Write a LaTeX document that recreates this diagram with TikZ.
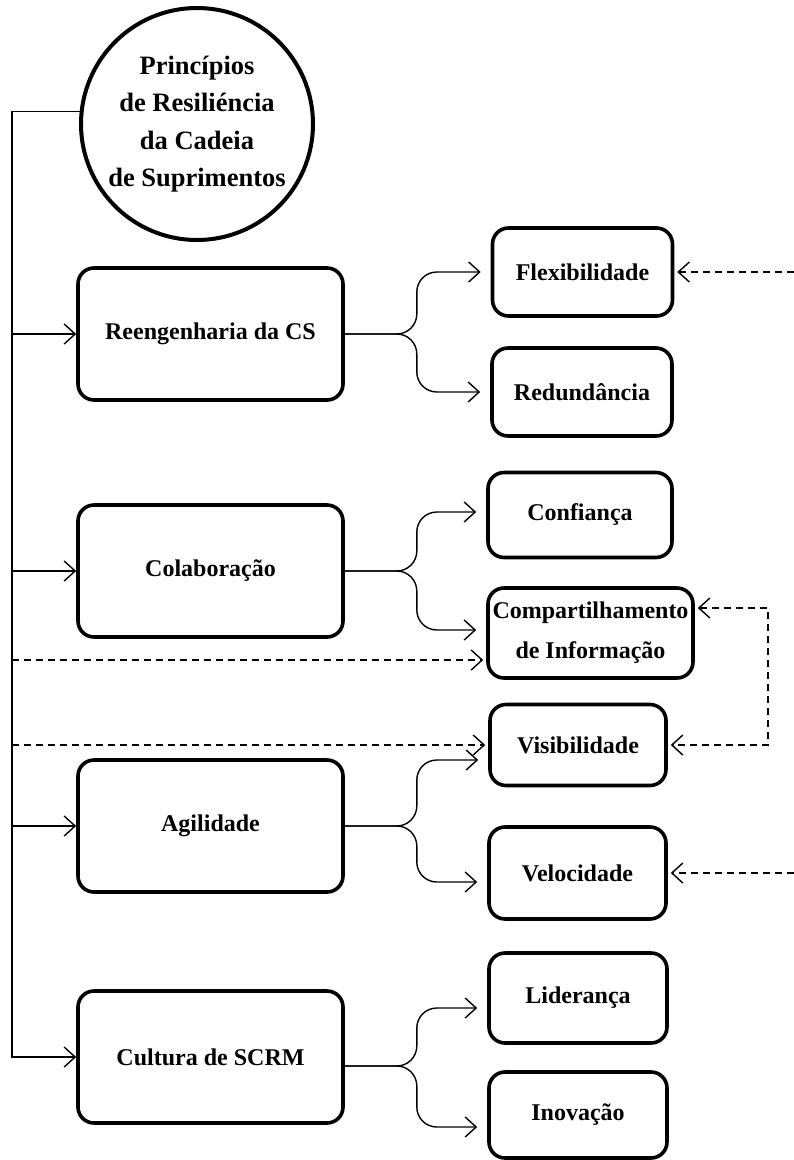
\documentclass[tikz,border=0pt]{standalone}
\usepackage{fontspec}
\setmainfont{Liberation Serif}
\usetikzlibrary{arrows.meta, positioning}
\tikzset{barb/.tip={Straight Barb[length=11pt, width=20pt]}}

\begin{document}
\begin{tikzpicture}[x=1pt, y=-1pt,
  font=\fontsize{24}{40}\selectfont\bfseries,
  box/.style={draw, line width=3.6pt, rounded corners=16pt, align=center, inner sep=0pt},
  mainbox/.style={box, minimum width=265pt, minimum height=132pt},
  subbox/.style={box, minimum width=180pt, minimum height=88pt},
  arr/.style={-barb, line width=1.4pt},
  branch/.style={arr, rounded corners=20pt, shorten >=10pt},
  darr/.style={arr, dash pattern=on 7pt off 5pt, shorten >=3pt},
  dboth/.style={darr, barb-barb, shorten <=3pt}]
  \useasboundingbox (0,0) rectangle (794,1160);

  % root and main principles
  \node[draw, circle, line width=4pt, minimum size=232pt, inner sep=0pt, align=center,
        font=\fontsize{26.5}{37.5}\selectfont\bfseries] (prin) at (197,124)
        {Princípios\\ de Resiliéncia\\ da Cadeia\\ de Suprimentos};
  \node[mainbox] (reeng) at (210.5,334)  {Reengenharia da CS};
  \node[mainbox] (colab) at (210.5,571)  {Colaboração};
  \node[mainbox] (agil)  at (210.5,826)  {Agilidade};
  \node[mainbox] (cult)  at (210.5,1057) {Cultura de SCRM};

  % sub-elements
  \node[subbox] (flex)    at (582.5,272)  {Flexibilidade};
  \node[subbox] (redund)  at (582,392)    {Redundância};
  \node[subbox, minimum width=184pt, minimum height=85pt] (confi) at (580,515) {Confiança};
  \node[subbox, minimum width=205pt, minimum height=90pt] (compart) at (590.5,633)
        {Compartilhamento\\ de Informação};
  \node[subbox, minimum width=176pt, minimum height=81pt] (visib) at (578,745) {Visibilidade};
  \node[subbox, minimum width=177pt, minimum height=92pt] (veloc) at (577.5,873) {Velocidade};
  \node[subbox, minimum width=178pt, minimum height=90pt] (lider) at (578,998)  {Liderança};
  \node[subbox, minimum width=178pt, minimum height=86pt] (inov)  at (578,1115) {Inovação};

  \coordinate (trunk) at (12,0);
  \coordinate (redge) at (794,0);
  \coordinate (loopx) at (768,0);

  % trunk
  \draw[arr] (prin.174) -| (cult.west -| trunk) -- (cult.west);
  \draw[arr] (reeng.west -| trunk) -- (reeng.west);
  \draw[arr] (colab.west -| trunk) -- (colab.west);
  \draw[arr] (agil.west -| trunk) -- (agil.west);

  % branches
  \coordinate (rs) at ([xshift=72pt]reeng.east);
  \draw[branch] (reeng.east) -- (rs) |- (flex.west);
  \draw[branch] (reeng.east) -- (rs) |- (redund.west);
  \coordinate (cs) at ([xshift=72pt]colab.east);
  \draw[branch] (colab.east) -- (cs) |- ([yshift=3pt]confi.west);
  \draw[branch] (colab.east) -- (cs) |- ([yshift=3pt]compart.west);
  \coordinate (as) at ([xshift=72pt]agil.east);
  \draw[branch] (agil.east) -- (as) |- ([yshift=-15pt]visib.west);
  \draw[branch] (agil.east) -- (as) |- ([yshift=-9pt]veloc.west);
  \coordinate (ce) at ([yshift=-9pt]cult.east);
  \coordinate (us) at ([xshift=72pt]ce);
  \draw[branch] (ce) -- (us) |- ([yshift=-10pt]lider.west);
  \draw[branch] (ce) -- (us) |- ([yshift=-12pt]inov.west);

  % dashed links
  \coordinate (cpin)  at ([yshift=-27pt]compart.west);
  \coordinate (cpout) at ([yshift=25pt]compart.east);
  \draw[darr] (flex.east -| redge) -- (flex.east);
  \draw[darr] (cpin -| trunk) -- (cpin);
  \draw[darr] (visib.west -| trunk) -- (visib.west);
  \draw[dboth] (cpout) -| (loopx |- visib.east) -- (visib.east);
  \draw[darr] (veloc.east -| redge) -- (veloc.east);
\end{tikzpicture}
\end{document}
